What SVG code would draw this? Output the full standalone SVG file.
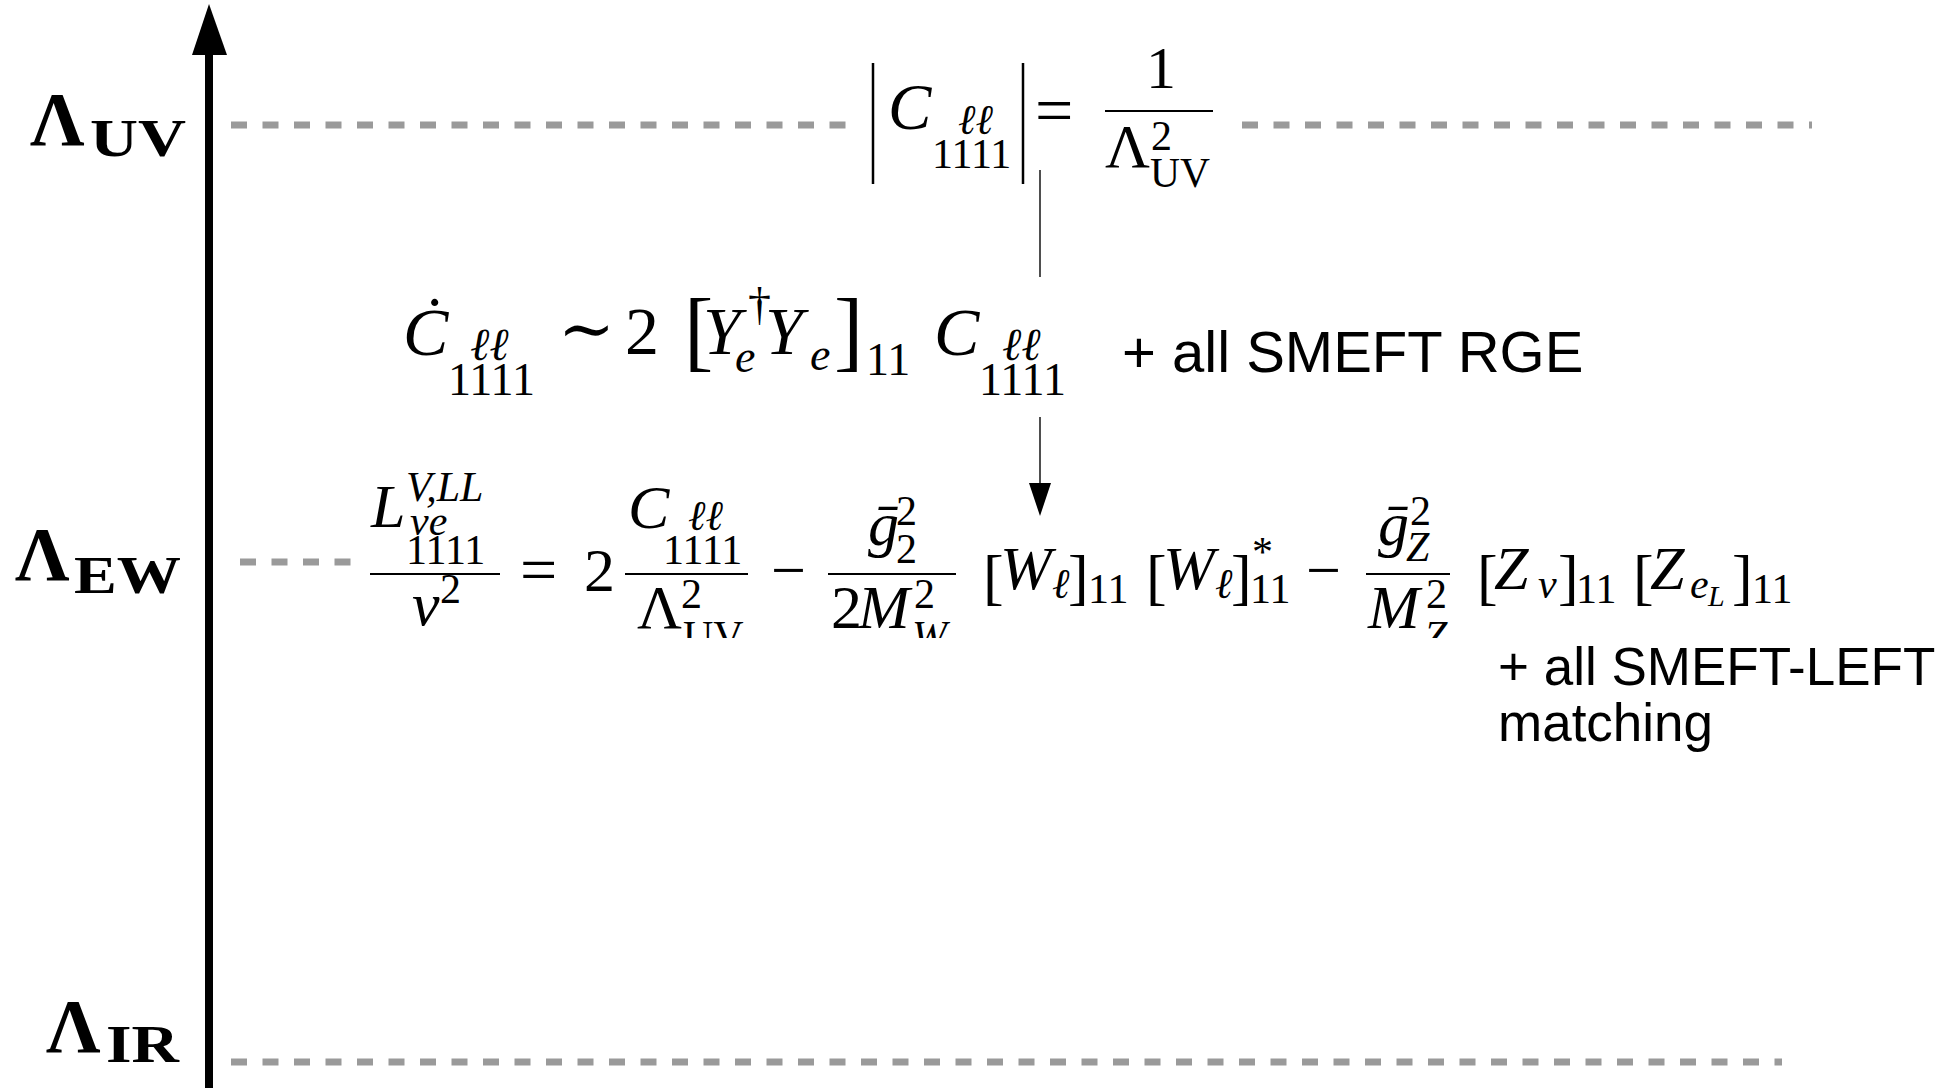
<svg xmlns="http://www.w3.org/2000/svg" width="1960" height="1088" viewBox="0 0 1960 1088">
<style>
.m{font-family:"Liberation Serif","DejaVu Serif",serif;fill:#000}
.i{font-style:italic}
.lab{font-family:"Liberation Serif","DejaVu Serif",serif;font-weight:bold;fill:#000}
.txt{font-family:"Liberation Sans",Arial,sans-serif;fill:#000}
.dash{stroke:#9a9a9a;stroke-width:7;stroke-dasharray:16 15.5;fill:none}
.bar{stroke:#000;stroke-width:2.2}
.conn{stroke:#222;stroke-width:1.6;fill:none}
</style>
<defs>
<clipPath id="clip3"><rect x="0" y="440" width="1960" height="198"/></clipPath>
</defs>
<rect width="1960" height="1088" fill="#fff"/>

<g id="axis">
<line x1="209" y1="50" x2="209" y2="1088" stroke="#000" stroke-width="8"/>
<polygon points="209,4 192,55 227,55" fill="#000"/>
</g>

<g id="scale-lines">
<line class="dash" x1="231" y1="125" x2="850" y2="125"/>
<line class="dash" x1="1242" y1="125" x2="1812" y2="125"/>
<line class="dash" x1="240" y1="562" x2="352" y2="562"/>
<line class="dash" x1="231" y1="1062" x2="1782" y2="1062"/>
</g>

<g id="label-uv">
<text class="lab" x="30" y="145" font-size="76">Λ<tspan x="90" y="156" font-size="52" textLength="96" lengthAdjust="spacingAndGlyphs">UV</tspan></text>
</g>
<g id="label-ew">
<text class="lab" x="15" y="580" font-size="76">Λ<tspan x="74" y="593" font-size="52" textLength="107" lengthAdjust="spacingAndGlyphs">EW</tspan></text>
</g>
<g id="label-ir">
<text class="lab" x="46" y="1052" font-size="76">Λ<tspan x="106" y="1062" font-size="52" textLength="73" lengthAdjust="spacingAndGlyphs">IR</tspan></text>
</g>

<g id="formula-uv">
<line x1="873" y1="63" x2="873" y2="184" stroke="#000" stroke-width="2.5"/>
<line x1="1023" y1="63" x2="1023" y2="184" stroke="#000" stroke-width="2.5"/>
<text class="m" font-size="65"><tspan class="i" x="888" y="129">C</tspan><tspan class="i" x="958" y="134" font-size="42">ℓℓ</tspan><tspan x="932" y="168" font-size="42">1111</tspan><tspan x="1035" y="133" font-size="68">=</tspan></text>
<text class="m" font-size="60"><tspan x="1146" y="88">1</tspan></text>
<line class="bar" x1="1105" y1="111" x2="1213" y2="111"/>
<text class="m" font-size="62"><tspan x="1105" y="167">Λ</tspan><tspan x="1151" y="150" font-size="42">2</tspan><tspan x="1150" y="187" font-size="42" textLength="60" lengthAdjust="spacingAndGlyphs">UV</tspan></text>
</g>

<g id="formula-rge">
<text class="m" font-size="68"><tspan class="i" x="403" y="355">Ċ</tspan><tspan class="i" x="470" y="360" font-size="46">ℓℓ</tspan><tspan x="448" y="395" font-size="46">1111</tspan><tspan x="558" y="352">∼</tspan><tspan x="625" y="354">2</tspan><tspan x="684" y="360" font-size="88">[</tspan><tspan class="i" x="703" y="354">Y</tspan><tspan class="i" x="735" y="372" font-size="46">e</tspan><tspan x="748" y="320" font-size="46">†</tspan><tspan class="i" x="765" y="354">Y</tspan><tspan class="i" x="810" y="370" font-size="46">e</tspan><tspan x="834" y="360" font-size="88">]</tspan><tspan x="866" y="375" font-size="46">11</tspan><tspan class="i" x="934" y="355">C</tspan><tspan class="i" x="1002" y="360" font-size="46">ℓℓ</tspan><tspan x="979" y="395" font-size="46">1111</tspan></text>
</g>

<g id="text-rge">
<text class="txt" x="1122" y="372" font-size="58">+ all SMEFT RGE</text>
</g>

<g id="formula-ew" clip-path="url(#clip3)">
<line class="bar" x1="370" y1="574" x2="500" y2="574"/>
<line class="bar" x1="625" y1="574" x2="748" y2="574"/>
<line class="bar" x1="828" y1="574" x2="956" y2="574"/>
<line class="bar" x1="1366" y1="574" x2="1450" y2="574"/>
<text class="m" font-size="62"><tspan class="i" x="371" y="527">L</tspan><tspan class="i" x="406" y="501" font-size="42">V,LL</tspan><tspan class="i" x="410" y="535" font-size="42">νe</tspan><tspan x="406" y="564" font-size="42">1111</tspan><tspan class="i" x="412" y="625">v</tspan><tspan x="440" y="603" font-size="42">2</tspan><tspan x="520" y="592" font-size="66">=</tspan><tspan x="584" y="591">2</tspan><tspan class="i" x="628" y="528">C</tspan><tspan class="i" x="688" y="530" font-size="42">ℓℓ</tspan><tspan x="663" y="564" font-size="42">1111</tspan><tspan x="637" y="628">Λ</tspan><tspan x="681" y="608" font-size="42">2</tspan><tspan x="683" y="650" font-size="42">UV</tspan><tspan x="771" y="591">−</tspan><tspan class="i" x="868" y="545">ḡ</tspan><tspan x="896" y="563" font-size="42">2</tspan><tspan x="896" y="525" font-size="42">2</tspan><tspan x="831" y="628">2</tspan><tspan class="i" x="858" y="628">M</tspan><tspan x="914" y="608" font-size="42">2</tspan><tspan class="i" x="912" y="650" font-size="42">W</tspan><tspan x="983" y="598">[</tspan><tspan class="i" x="1000" y="589">W</tspan><tspan class="i" x="1052" y="598" font-size="42">ℓ</tspan><tspan x="1068" y="598">]</tspan><tspan x="1088" y="603" font-size="42">11</tspan><tspan x="1146" y="598">[</tspan><tspan class="i" x="1163" y="589">W</tspan><tspan class="i" x="1215" y="598" font-size="42">ℓ</tspan><tspan x="1231" y="598">]</tspan><tspan x="1252" y="566" font-size="42">*</tspan><tspan x="1250" y="603" font-size="42">11</tspan><tspan x="1306" y="591">−</tspan><tspan class="i" x="1378" y="545">ḡ</tspan><tspan class="i" x="1406" y="561" font-size="42">Z</tspan><tspan x="1410" y="525" font-size="42">2</tspan><tspan class="i" x="1368" y="628">M</tspan><tspan x="1426" y="608" font-size="42">2</tspan><tspan class="i" x="1424" y="650" font-size="42">Z</tspan><tspan x="1477" y="598">[</tspan><tspan class="i" x="1494" y="589">Z</tspan><tspan class="i" x="1538" y="598" font-size="42">ν</tspan><tspan x="1558" y="598">]</tspan><tspan x="1576" y="603" font-size="42">11</tspan><tspan x="1633" y="598">[</tspan><tspan class="i" x="1650" y="589">Z</tspan><tspan class="i" x="1690" y="598" font-size="42">e</tspan><tspan class="i" x="1708" y="606" font-size="30">L</tspan><tspan x="1732" y="598">]</tspan><tspan x="1752" y="603" font-size="42">11</tspan></text>
</g>

<g id="text-left">
<text class="txt" x="1498" y="685" font-size="53">+ all SMEFT-LEFT<tspan x="1498" y="741">matching</tspan></text>
</g>

<g id="connectors">
<line class="conn" x1="1040" y1="170" x2="1040" y2="277"/>
<line class="conn" x1="1040" y1="417" x2="1040" y2="486"/>
<polygon points="1029,483 1051,483 1040,516" fill="#000"/>
</g>
</svg>
